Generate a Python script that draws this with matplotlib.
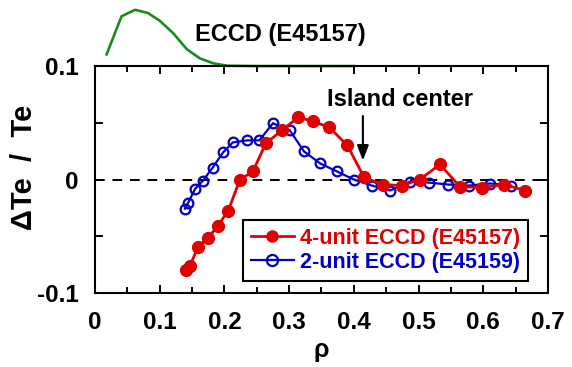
import matplotlib
matplotlib.use("Agg")
import matplotlib.pyplot as plt
from matplotlib.ticker import MultipleLocator

plt.rcParams['font.family'] = ['Liberation Sans', 'DejaVu Sans']
plt.rcParams['font.weight'] = 'bold'

# 4-unit ECCD (E45157)
rho_4 = [0.141, 0.147, 0.159, 0.175, 0.190, 0.206, 0.224, 0.244, 0.264, 0.289, 0.314, 0.337,
         0.362, 0.390, 0.416, 0.445, 0.474, 0.502, 0.533, 0.564, 0.598, 0.632, 0.665]
dte_4 = [-0.0796, -0.0761, -0.0593, -0.0513, -0.0407, -0.0274, 0.0000, 0.0071, 0.0319, 0.0434,
         0.0549, 0.0513, 0.0460, 0.0301, 0.0018, -0.0044, -0.0053, 0.0000, 0.0133, -0.0062,
         -0.0071, -0.0044, -0.0097]

# 2-unit ECCD (E45159)
rho_2 = [0.139, 0.144, 0.155, 0.167, 0.182, 0.198, 0.213, 0.235, 0.254, 0.275, 0.301, 0.323,
         0.348, 0.374, 0.400, 0.428, 0.456, 0.487, 0.516, 0.546, 0.578, 0.611, 0.643]
dte_2 = [-0.0257, -0.0204, -0.0080, -0.0009, 0.0106, 0.0239, 0.0327, 0.0345, 0.0345, 0.0496,
         0.0434, 0.0248, 0.0142, 0.0071, 0.0000, -0.0053, -0.0097, -0.0018, -0.0027, -0.0044,
         -0.0053, -0.0035, -0.0053]

# ECCD deposition profile (drawn above the axes)
rho_eccd = [0.018, 0.041, 0.062, 0.082, 0.100, 0.121, 0.142, 0.162, 0.183, 0.204, 0.25, 0.30, 0.35, 0.40]
val_eccd = [0.1103, 0.1438, 0.1496, 0.1467, 0.1400, 0.1289, 0.1148, 0.1068, 0.1024, 0.1003,
            0.1000, 0.1000, 0.1000, 0.1000]

xticks = [0, 0.1, 0.2, 0.3, 0.4, 0.5, 0.6, 0.7]
xticklabels = ['0', '0.1', '0.2', '0.3', '0.4', '0.5', '0.6', '0.7']
yticks = [-0.1, 0, 0.1]
yticklabels = ['-0.1', '0', '0.1']

RED = '#e00000'
BLUE = '#0000c8'
GREEN = '#1a8c1a'

fig = plt.figure(figsize=(5.72, 3.67), dpi=100)
ax = fig.add_axes([0.166, 0.2016, 0.792, 0.6184])

ax.axhline(0, color='black', lw=1.4, ls=(0, (5, 4)), zorder=1)

ax.plot(rho_eccd, val_eccd, color=GREEN, lw=1.9, clip_on=False, zorder=1.5)

ax.plot(rho_4, dte_4, color=RED, lw=2.0, marker='o', ms=8.5, mfc=RED, mec=RED,
        label='4-unit ECCD (E45157)', zorder=3)
ax.plot(rho_2, dte_2, color=BLUE, lw=1.6, marker='o', ms=7, mfc='none', mec=BLUE, mew=1.6,
        label='2-unit ECCD (E45159)', zorder=2.8)

ax.set_xlim(0, 0.7)
ax.set_ylim(-0.1, 0.1)
ax.set_xticks(xticks)
ax.set_xticklabels(xticklabels)
ax.set_yticks(yticks)
ax.set_yticklabels(yticklabels)
ax.xaxis.set_minor_locator(MultipleLocator(0.05))
ax.yaxis.set_minor_locator(MultipleLocator(0.05))
ax.tick_params(which='both', direction='in', top=True, right=True, width=1.4, labelsize=17.5)
ax.tick_params(which='major', length=6)
ax.tick_params(which='minor', length=4)
ax.tick_params(axis='y', which='minor', length=6)
ax.tick_params(axis='x', which='major', pad=13)
ax.tick_params(axis='y', which='major', pad=12)
for s in ax.spines.values():
    s.set_linewidth(1.5)

ax.set_xlabel('ρ', fontsize=18, fontweight='bold', labelpad=3)
ax.set_ylabel('ΔTe  /  Te', fontsize=21, fontweight='bold')
ax.yaxis.set_label_coords(-0.125, 0.555)

ax.text(0.1546, 0.1274, 'ECCD (E45157)', fontsize=17, fontweight='bold',
        ha='left', va='center', clip_on=False)
ax.text(0.471, 0.0708, 'Island center', fontsize=17, fontweight='bold',
        ha='center', va='center')
ax.annotate('', xy=(0.414, 0.0168), xytext=(0.414, 0.0560),
            arrowprops=dict(arrowstyle='-|>,head_length=0.9,head_width=0.35',
                            color='black', lw=1.5, shrinkA=0, shrinkB=0))

leg = ax.legend(loc='lower right', bbox_to_anchor=(0.956, 0.055), borderaxespad=0,
                fontsize=15.5, fancybox=False, framealpha=1, edgecolor='black',
                handlelength=2.0, handletextpad=0.3, labelspacing=0.15,
                borderpad=0.35, labelcolor='linecolor')
leg.get_frame().set_linewidth(1.5)
for lh in leg.get_lines():
    lh.set_markersize(8)

fig.savefig('out.png', dpi=100)
